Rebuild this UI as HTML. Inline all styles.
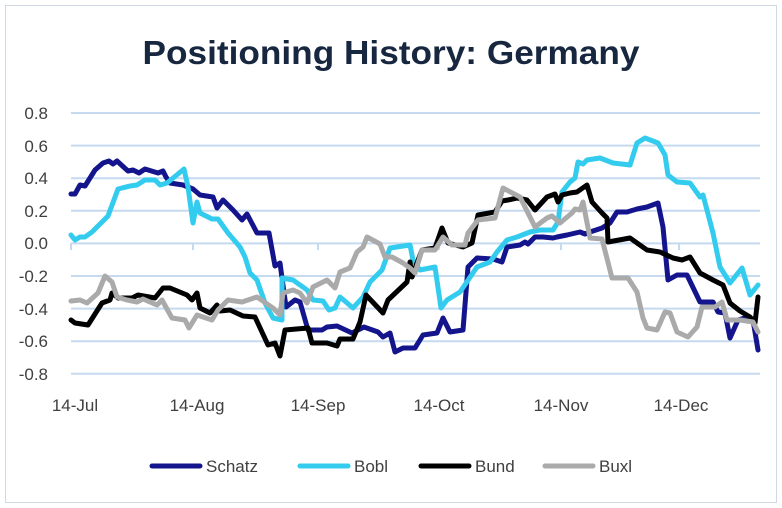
<!DOCTYPE html>
<html><head><style>
body{margin:0;background:#fff;}
svg{display:block;font-family:"Liberation Sans",Arial,sans-serif;}
</style></head><body>
<svg width="782" height="508" viewBox="0 0 782 508">
<rect x="5.5" y="5.5" width="771" height="497" fill="#fff" stroke="#d0d8e4" stroke-width="1"/>
<text x="391" y="64" text-anchor="middle" font-size="33" font-weight="bold" fill="#16273f" textLength="497" lengthAdjust="spacingAndGlyphs">Positioning History: Germany</text>
<g stroke="#c5d9ef" stroke-width="2">
<line x1="71" x2="760" y1="113" y2="113"/><line x1="71" x2="760" y1="145.6" y2="145.6"/>
<line x1="71" x2="760" y1="178.2" y2="178.2"/><line x1="71" x2="760" y1="210.8" y2="210.8"/>
<line x1="71" x2="760" y1="243.4" y2="243.4"/><line x1="71" x2="760" y1="276" y2="276"/>
<line x1="71" x2="760" y1="308.6" y2="308.6"/><line x1="71" x2="760" y1="341.2" y2="341.2"/>
<line x1="71" x2="760" y1="373.8" y2="373.8"/>
<line x1="71" x2="71" y1="243" y2="250"/><line x1="193" x2="193" y1="243" y2="250"/><line x1="318" x2="318" y1="243" y2="250"/><line x1="439" x2="439" y1="243" y2="250"/><line x1="561" x2="561" y1="243" y2="250"/><line x1="679" x2="679" y1="243" y2="250"/>
</g>
<g font-size="17" fill="#404040" text-anchor="end">
<text x="48" y="119">0.8</text><text x="48" y="152">0.6</text><text x="48" y="184">0.4</text><text x="48" y="217">0.2</text><text x="48" y="249">0.0</text><text x="48" y="282">-0.2</text><text x="48" y="315">-0.4</text><text x="48" y="347">-0.6</text><text x="48" y="380">-0.8</text>
</g>
<g font-size="17" fill="#404040" text-anchor="middle">
<text x="75" y="411">14-Jul</text><text x="197" y="411">14-Aug</text><text x="318" y="411">14-Sep</text><text x="439" y="411">14-Oct</text><text x="561" y="411">14-Nov</text><text x="681" y="411">14-Dec</text>
</g>
<g fill="none" stroke-width="5" stroke-linejoin="round" stroke-linecap="round">
<polyline stroke="#14148c" points="71,194 75,194 80,185 85,186 95,170 103,163 109,161 113,164 117,161 128,171 133,170 139,173 145,169 158,173 163,171 166,177 170,183 183,185 193,189 200,195 213,197 217,208 223,200 233,210 242,220 247,214 257,233 269,233 275,266 280,263 282,278 286,307 295,300 300,302 308,330 322,330 327,327 337,326 352,333 358,330 364,327 378,332 383,337 390,333 395,352 403,348 413,348 415,348 423,335 437,333 443,318 450,332 463,330 468,267 477,258 493,259 502,262 507,247 520,245 525,242 528,244 535,237 543,237 553,238 557,237 567,235 580,232 585,234 590,232 602,228 610,223 617,212 627,212 637,209 647,207 658,203 663,227 668,280 677,275 687,275 700,302 713,302 718,312 725,313 730,338 738,320 748,317 753,320 758,350"/>
<polyline stroke="#33ccee" points="71,235 75,240 80,237 85,237 92,232 102,222 108,216 118,189 130,186 137,185 145,180 155,180 160,185 167,183 184,169 188,187 193,223 197,202 200,213 212,219 218,219 228,233 240,247 245,257 250,273 257,280 265,303 273,318 282,320 282,278 293,280 307,290 313,300 323,301 329,310 335,308 340,297 353,308 363,297 370,282 382,270 390,248 410,245 413,260 420,270 435,267 441,308 447,300 460,292 477,267 490,262 497,252 507,240 517,237 530,232 540,230 553,230 558,222 562,192 570,182 575,178 578,162 583,164 587,160 600,158 613,163 630,165 637,143 645,138 658,143 665,155 668,175 677,182 690,183 700,197 703,195 713,233 720,267 730,283 742,268 750,295 758,285"/>
<polyline stroke="#000" points="71,320 75,323 88,325 102,303 110,300 112,293 118,298 132,298 138,295 155,298 163,288 170,288 187,295 192,300 197,293 200,308 210,313 217,305 220,311 230,310 243,316 255,317 268,345 275,343 280,356 285,330 308,328 312,343 327,343 337,346 340,339 353,339 360,322 366,295 383,313 388,300 407,282 410,262 412,277 417,263 422,250 435,248 442,228 448,243 463,247 472,243 478,215 495,212 502,201 508,200 517,198 527,200 535,210 547,197 555,194 558,202 562,195 570,193 577,192 587,185 592,202 602,213 607,218 608,242 630,238 647,250 660,252 673,258 682,260 690,257 700,273 713,280 723,285 730,303 740,311 750,317 755,323 758,297"/>
<polyline stroke="#aaaaaa" points="71,301 80,300 87,303 98,293 105,276 112,282 117,297 127,300 137,302 143,299 157,305 162,300 172,318 185,320 189,328 197,315 212,320 218,310 228,300 242,302 257,297 273,308 280,315 283,293 293,290 300,293 307,303 313,287 327,280 335,288 340,272 350,268 357,252 363,247 367,237 380,244 385,257 392,257 403,263 410,268 415,273 422,250 435,250 443,237 452,245 465,245 468,233 478,220 495,218 503,188 520,197 530,217 535,227 547,218 552,216 560,223 572,213 575,209 580,210 583,202 590,238 602,239 612,278 628,278 637,292 643,318 647,328 657,330 665,312 670,313 677,332 688,337 697,327 702,307 715,307 722,302 727,320 740,320 753,322 758,332"/>
</g>
<g stroke-width="5" stroke-linecap="round">
<line x1="152" x2="200" y1="466" y2="466" stroke="#14148c"/>
<line x1="300" x2="348" y1="466" y2="466" stroke="#33ccee"/>
<line x1="421" x2="469" y1="466" y2="466" stroke="#000"/>
<line x1="545" x2="593" y1="466" y2="466" stroke="#aaaaaa"/>
</g>
<g font-size="17" fill="#404040">
<text x="206" y="472">Schatz</text><text x="354" y="472">Bobl</text><text x="475" y="472">Bund</text><text x="599" y="472">Buxl</text>
</g>
</svg>
</body></html>
